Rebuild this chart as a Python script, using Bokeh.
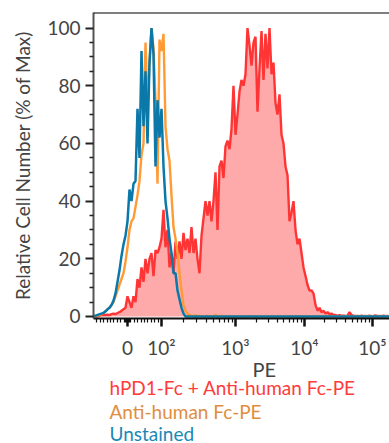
import math
from bokeh.plotting import figure
from bokeh.models import FixedTicker, Span, Title
from bokeh.embed import file_html
from bokeh.resources import INLINE

# ---------------- data (display channels, 2-channel bins; % of max) ----------------
BIN = 2
X_MAX = 296

blue_vals = [0, 0.3, 0.5, 0.8, 1, 1.2, 1.8, 2.5, 3, 4, 5.5, 8, 12, 16, 21, 25, 28, 33,
             44, 40, 46, 47, 72, 55, 92, 66, 85, 60, 88, 100, 91, 52, 75, 62, 72, 52,
             40, 34, 27, 22, 15, 15, 9, 6, 3, 1, 0]

orange_vals = [0, 0, 0.3, 0.5, 0.8, 1.2, 1.8, 2.5, 3, 4, 5, 7, 9, 11, 13, 15, 19, 24,
               30, 33, 34, 38, 42, 47, 56, 60, 95, 72, 88, 100, 93, 75, 46, 96, 92, 98,
               66, 58, 54, 42, 31, 27, 22, 15, 9, 4, 2, 1, 0.5, 0.3, 0, 0.5, 0, 0.3,
               0, 0, 0, 0.3, 0, 0, 0, 0.6, 0, 0, 0.3, 0]

red_start = 2
red_vals = [0, 0, 0.3, 0.5, 0.5, 0.5, 0.6, 0.5, 0.8, 1, 0.8, 1.2, 1.5, 2, 2.5, 3, 7, 5,
            3, 7, 5, 13, 10, 17, 12, 20, 15, 20, 22, 14, 23, 22, 24, 27, 37, 24, 30, 17,
            22, 15, 26, 20, 26, 20, 29, 23, 27, 22, 31, 22, 27, 20, 15, 28, 34, 40, 35,
            40, 33, 40, 50, 30, 52, 54, 48, 59, 61, 58, 65, 80, 63, 70, 78, 82, 80, 84,
            100, 94, 87, 95, 97, 71, 86, 99, 82, 98, 86, 100, 84, 88, 74, 70, 77, 63, 60,
            52, 49, 33, 36, 40, 30, 25, 27, 22, 17, 14, 11, 9, 9, 8, 4, 2, 3, 1.5, 2, 1,
            1.5, 0.8, 1, 0.5, 0.5, 0.3, 0.5, 0.3, 0.3, 0.2, 0.3, 1.5, 0.5, 0.3, 0.2, 0.2,
            0.1, 0.3, 0.1, 0.2, 0.1, 0.3, 0.1, 0.2, 0.4, 0.1, 0.2, 0.1, 0.3, 0.1, 0.2, 0.1]

series_names = ["hPD1-Fc + Anti-human Fc-PE", "Anti-human Fc-PE", "Unstained"]
series_colors = ["#ff3535", "#ff9a35", "#0a78a8"]
legend_colors = ["#ff3b3b", "#e08e3e", "#1a88b6"]

# x axis: biexponential display, channel position of each decade
tick_values = [0, 100, 1000, 10000, 100000]
tick_channels = [34, 68, 142, 211, 279]
tick_text = ["0", "10\u00b2", "10\u00b3", "10\u2074", "10\u2075"]

y_ticks = [0, 20, 40, 60, 80, 100]
y_minor = [5, 10, 15, 25, 30, 35, 45, 50, 55, 65, 70, 75, 85, 90, 95]


def to_channel(v):
    if abs(v) <= 100:
        return tick_channels[0] + (tick_channels[1] - tick_channels[0]) * v / 100.0
    lv = math.log10(v)
    k = min(int(math.floor(lv)), 4)
    i = k - 1
    return tick_channels[i] + (tick_channels[i + 1] - tick_channels[i]) * (lv - k)


minor_vals = ([-m for m in range(10, 100, 10)] + [-m for m in range(1, 10)] +
              list(range(1, 10)) + list(range(10, 100, 10)) +
              [m * 10 ** k for k in (2, 3, 4) for m in range(2, 10)])
minor_channels = [round(to_channel(v), 2) for v in minor_vals]
minor_channels = [c for c in minor_channels if 0 < c < X_MAX]


def pad(vals, start=0):
    xs = [start + BIN * i for i in range(len(vals))]
    ys = list(vals)
    while xs[-1] < X_MAX:
        xs.append(xs[-1] + BIN)
        ys.append(0)
    return xs, ys


rx, ry = pad(red_vals, red_start)
ox, oy = pad(orange_vals)
bx, by = pad(blue_vals)

Y0, Y1 = -0.7, 105.4
FONT = "Lato"

p = figure(width=389, height=443, output_backend="svg", toolbar_location=None,
           x_range=(0, X_MAX), y_range=(Y0, Y1),
           min_border_left=93, min_border_right=0, min_border_top=12, min_border_bottom=125)
p.outline_line_color = None
p.grid.visible = False
p.background_fill_color = "white"

p.varea(x=rx, y1=0, y2=ry, fill_color="#ffaaaa", fill_alpha=1)
p.line(rx, ry, line_color=series_colors[0], line_width=2.4)
p.line(ox, oy, line_color=series_colors[1], line_width=2.4)
p.line(bx, by, line_color=series_colors[2], line_width=2.5)

p.add_layout(Span(location=Y1, dimension="width", line_color="black", line_width=2))

# y axis
ya = p.yaxis[0]
ya.ticker = FixedTicker(ticks=y_ticks, minor_ticks=y_minor)
ya.axis_line_color = "#555555"
ya.axis_line_width = 2
ya.major_tick_out = 8
ya.major_tick_in = 0
ya.minor_tick_out = 4
ya.minor_tick_in = 0
ya.major_tick_line_width = 2
ya.minor_tick_line_width = 1.5
ya.major_tick_line_color = "#222222"
ya.minor_tick_line_color = "#222222"
ya.major_label_text_font = FONT
ya.major_label_text_font_size = "19px"
ya.major_label_text_color = "#444444"
ya.major_label_standoff = 5
ya.axis_label = "Relative Cell Number (% of Max)"
ya.axis_label_text_font = FONT
ya.axis_label_text_font_size = "19px"
ya.axis_label_text_font_style = "normal"
ya.axis_label_text_color = "#444444"
ya.axis_label_standoff = 10

# x axis
xa = p.xaxis[0]
xa.ticker = FixedTicker(ticks=tick_channels, minor_ticks=minor_channels)
xa.major_label_overrides = {c: t for c, t in zip(tick_channels, tick_text)}
xa.axis_line_color = "#111111"
xa.axis_line_width = 2
xa.major_tick_out = 8
xa.major_tick_in = 0
xa.minor_tick_out = 4
xa.minor_tick_in = 0
xa.major_tick_line_width = 2.5
xa.minor_tick_line_width = 1.2
xa.major_tick_line_color = "#111111"
xa.minor_tick_line_color = "#111111"
xa.major_label_text_font = FONT
xa.major_label_text_font_size = "19px"
xa.major_label_text_color = "#444444"
xa.major_label_standoff = 9

# axis name and colour legend, stacked below the x axis
p.add_layout(Title(text="PE", align="left", offset=159, standoff=-14,
                   text_font=FONT, text_font_size="20px", text_font_style="normal",
                   text_color="#444444"), "below")
legend_standoffs = [1, -3, -4]
for name, col, so in zip(series_names, legend_colors, legend_standoffs):
    p.add_layout(Title(text=name, align="left", offset=16, standoff=so,
                       text_font=FONT, text_font_size="19px", text_font_style="normal",
                       text_color=col), "below")

open("out.html", "w").write(file_html(p, INLINE))
